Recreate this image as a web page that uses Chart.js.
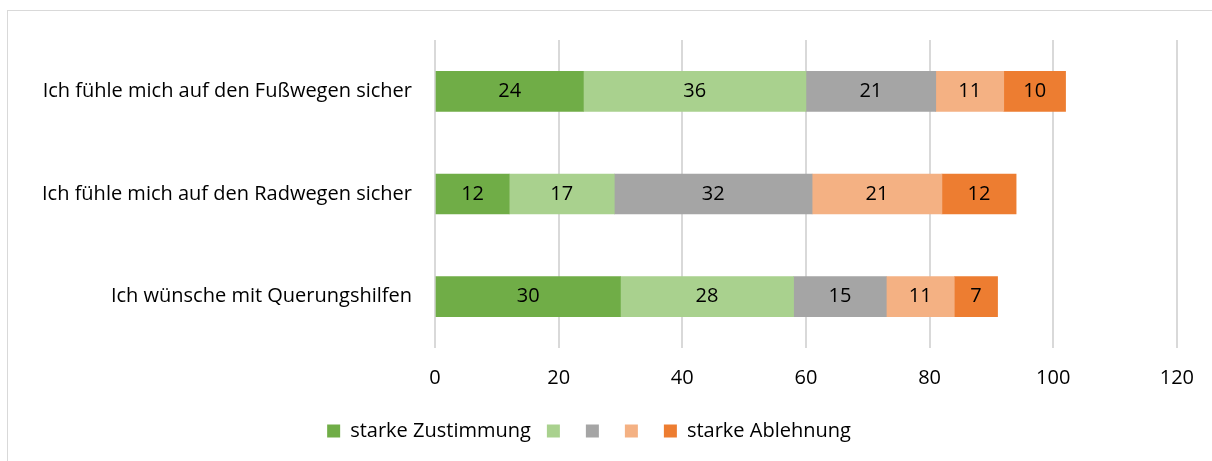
<!DOCTYPE html>
<html><head><meta charset="utf-8">
<script src="https://cdn.jsdelivr.net/npm/chart.js@4.4.1/dist/chart.umd.min.js"></script>
<style>
html,body{margin:0;padding:0;background:#fff;}
#wrap{position:absolute;left:0;top:0;width:1212px;height:461px;}
#frame{position:absolute;left:7px;top:10px;right:-2px;bottom:-2px;border-left:1px solid #d9d9d9;border-top:1px solid #d9d9d9;}
canvas{position:absolute;left:0;top:0;}
</style></head>
<body>
<div id="wrap"><div id="frame"></div><canvas id="c" width="1212" height="461"></canvas></div>
<script>
const categories = ["Ich fühle mich auf den Fußwegen sicher", "Ich fühle mich auf den Radwegen sicher", "Ich wünsche mit Querungshilfen"];
const seriesNames = ["starke Zustimmung", "", "", "", "starke Ablehnung"];
const s1 = [24, 12, 30];
const s2 = [36, 17, 28];
const s3 = [21, 32, 15];
const s4 = [11, 21, 11];
const s5 = [10, 12, 7];
const xTicks = [0, 20, 40, 60, 80, 100, 120];
const colors = ["#70AD47", "#A9D18E", "#A5A5A5", "#F4B183", "#ED7D31"];

const FONT = "'Open Sans', 'Noto Sans', sans-serif";
const FS = 20;
const values = [s1, s2, s3, s4, s5];
const datasets = values.map((v, i) => ({
  label: seriesNames[i], data: v, backgroundColor: colors[i], borderWidth: 0, barThickness: 40
}));

const labelPlugin = {
  id: 'valueLabels',
  afterDatasetsDraw(chart) {
    const ctx = chart.ctx;
    ctx.save();
    ctx.font = FS + "px " + FONT;
    ctx.fillStyle = "#000";
    ctx.textAlign = "center";
    ctx.textBaseline = "middle";
    chart.data.datasets.forEach((ds, di) => {
      const meta = chart.getDatasetMeta(di);
      meta.data.forEach((el, i) => {
        const p = el.getProps(['x', 'y', 'base'], true);
        ctx.fillText(String(ds.data[i]), (p.x + p.base) / 2, p.y);
      });
    });
    ctx.restore();
  }
};

new Chart(document.getElementById('c'), {
  type: 'bar',
  data: { labels: categories, datasets },
  plugins: [labelPlugin],
  options: {
    indexAxis: 'y',
    responsive: false,
    animation: false,
    devicePixelRatio: 1,
    layout: { padding: { left: 0, right: 34, top: 40, bottom: 10 } },
    scales: {
      x: {
        stacked: true, min: 0, max: 120,
        afterBuildTicks(ax) { ax.ticks = xTicks.map(v => ({ value: v })); },
        ticks: { color: "#000", font: { size: FS, family: FONT }, padding: 18 },
        grid: { color: "#d9d9d9", lineWidth: 2, drawTicks: false },
        border: { display: false },
        afterFit(ax) { ax.height = 57; }
      },
      y: {
        stacked: true,
        ticks: { color: "#000", font: { size: FS, family: FONT }, padding: 23 },
        grid: { display: false, drawTicks: false },
        border: { display: false },
        afterFit(ax) { ax.width = 435; }
      }
    },
    plugins: {
      legend: {
        position: 'bottom',
        labels: { boxWidth: 13, boxHeight: 13, padding: 16, color: "#000", font: { size: FS, family: FONT } }
      },
      tooltip: { enabled: false }
    }
  }
});
</script>
</body></html>
